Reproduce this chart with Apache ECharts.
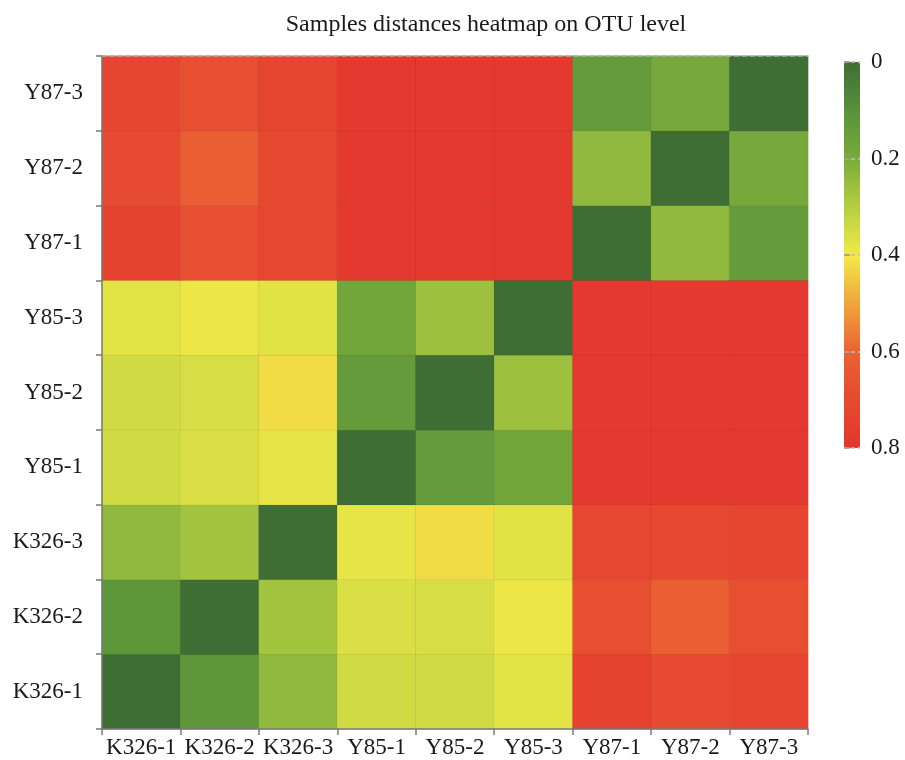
<!DOCTYPE html>
<html>
<head>
<meta charset="utf-8">
<style>
  html, body { margin: 0; padding: 0; background: #fff; }
  #chart { width: 905px; height: 760px; }
</style>
<script src="https://cdn.jsdelivr.net/npm/echarts@6/dist/echarts.min.js"></script>
</head>
<body>
<div id="chart"></div>
<script>
// Sample names, bottom-to-top on the y axis and left-to-right on the x axis
const samples = ['K326-1', 'K326-2', 'K326-3', 'Y85-1', 'Y85-2', 'Y85-3', 'Y87-1', 'Y87-2', 'Y87-3'];

// Pairwise sample distances (row i = samples[i], column j = samples[j])
const distances = [
  [0.00, 0.12, 0.24, 0.345, 0.345, 0.375, 0.74, 0.70, 0.72],
  [0.12, 0.00, 0.27, 0.36, 0.355, 0.39, 0.68, 0.62, 0.68],
  [0.24, 0.27, 0.00, 0.38, 0.42, 0.37, 0.715, 0.71, 0.72],
  [0.345, 0.36, 0.38, 0.00, 0.14, 0.18, 0.78, 0.78, 0.78],
  [0.345, 0.355, 0.42, 0.14, 0.00, 0.26, 0.78, 0.78, 0.78],
  [0.375, 0.39, 0.37, 0.18, 0.26, 0.00, 0.78, 0.78, 0.78],
  [0.74, 0.68, 0.715, 0.78, 0.78, 0.78, 0.00, 0.24, 0.14],
  [0.70, 0.62, 0.71, 0.78, 0.78, 0.78, 0.24, 0.00, 0.19],
  [0.72, 0.68, 0.72, 0.78, 0.78, 0.78, 0.14, 0.19, 0.00]
];

// Colour-bar scale
const scaleMin = 0;
const scaleMax = 0.8;
const scaleStep = 0.2;
const scaleColors = ['#3f6e35', '#57913a', '#79ab3b', '#b5ce40', '#f2ea48', '#f0a63c', '#ea6333', '#e64a30', '#e4352e'];

const cells = [];
distances.forEach((row, i) => {
  row.forEach((v, j) => cells.push([j, i, v]));
});

const FONT = 'Liberation Serif, Times New Roman, serif';
const axisGray = '#7a7a7a';
const textColor = '#1a1a1a';

const chart = echarts.init(document.getElementById('chart'), null, { renderer: 'canvas' });

chart.setOption({
  animation: false,
  backgroundColor: '#ffffff',
  title: {
    text: 'Samples distances heatmap on OTU level',
    left: 481,
    textAlign: 'center',
    top: 8,
    textStyle: { fontFamily: FONT, fontSize: 24, fontWeight: 'normal', color: textColor }
  },
  grid: [
    { left: 102, top: 56, width: 706, height: 673 },
    { left: 844, top: 62, width: 16, height: 386 }
  ],
  xAxis: [
    {
      type: 'category',
      gridIndex: 0,
      data: samples,
      position: 'bottom',
      axisLine: { lineStyle: { color: axisGray, width: 1.5 } },
      axisTick: { show: true, length: 6, lineStyle: { color: axisGray, width: 1.5 } },
      axisLabel: { fontFamily: FONT, fontSize: 23, color: textColor, margin: 7, interval: 0 },
      splitLine: { show: false },
      z: 5
    },
    {
      type: 'category',
      gridIndex: 0,
      data: samples,
      position: 'top',
      axisLine: { lineStyle: { color: '#b0b0b0', width: 1.5, type: [5, 3] } },
      axisTick: { show: false },
      axisLabel: { show: false },
      z: 5
    },
    {
      type: 'value',
      gridIndex: 1,
      show: false,
      min: 0,
      max: 1
    }
  ],
  yAxis: [
    {
      type: 'category',
      gridIndex: 0,
      data: samples,
      axisLine: { lineStyle: { color: axisGray, width: 1.5 } },
      axisTick: { show: true, length: 6, lineStyle: { color: axisGray, width: 1.5 } },
      axisLabel: { fontFamily: FONT, fontSize: 23, color: textColor, margin: 19, interval: 0 },
      splitLine: { show: false },
      z: 5
    },
    {
      type: 'value',
      gridIndex: 1,
      position: 'right',
      inverse: true,
      min: scaleMin,
      max: scaleMax,
      interval: scaleStep,
      axisLine: { show: false },
      axisTick: { show: true, length: 6, lineStyle: { color: '#999', width: 1.5 } },
      axisLabel: {
        fontFamily: FONT, fontSize: 23, color: textColor, margin: 11,
        formatter: v => String(Math.round(v * 10) / 10)
      },
      splitLine: { show: true, lineStyle: { color: '#bdbdbd', width: 1.5, type: [4, 3] } },
      z: 10
    }
  ],
  visualMap: {
    type: 'continuous',
    min: scaleMin,
    max: scaleMax,
    seriesIndex: 0,
    calculable: false,
    inverse: true,
    orient: 'vertical',
    left: 844,
    top: 62,
    padding: 0,
    itemWidth: 16,
    itemHeight: 386,
    showLabel: false,
    hoverLink: false,
    inRange: { color: scaleColors },
    z: 3
  },
  series: [
    {
      type: 'heatmap',
      xAxisIndex: 0,
      yAxisIndex: 0,
      data: cells,
      itemStyle: { borderColor: 'rgba(0,0,0,0.06)', borderWidth: 1 },
      emphasis: { disabled: true },
      z: 2
    }
  ]
});
</script>
</body>
</html>
